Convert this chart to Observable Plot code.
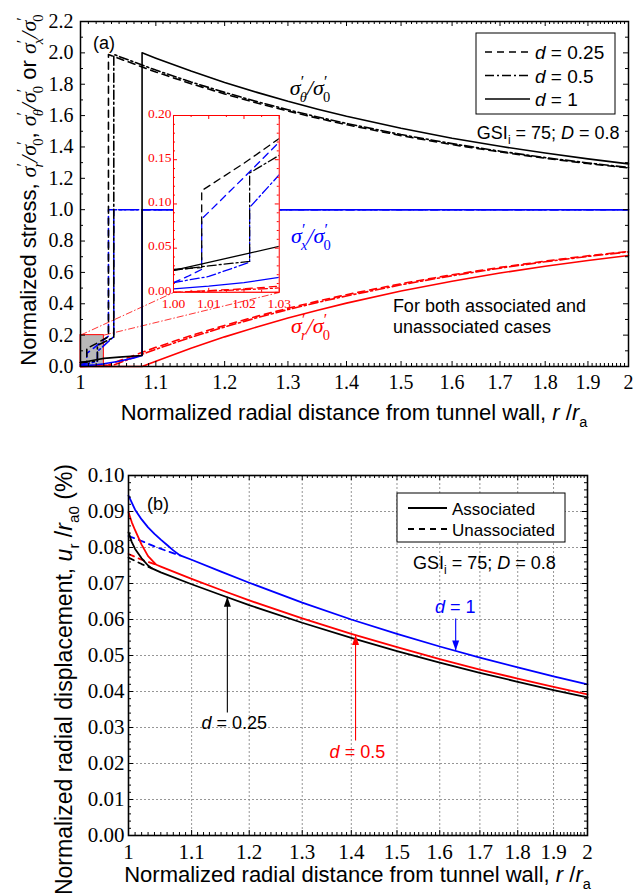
<!DOCTYPE html>
<html><head><meta charset="utf-8">
<script src="https://cdn.jsdelivr.net/npm/d3@7"></script>
<script src="https://cdn.jsdelivr.net/npm/@observablehq/plot@0.6"></script>
<style>
body{margin:0;background:#fff;}
#wrap{position:relative;width:635px;height:896px;overflow:hidden;background:#fff;}
#wrap svg{position:absolute;}
</style></head><body><div id="wrap"></div>
<script>
const SANS = "Liberation Sans, Arial, sans-serif";
const SERIF = "Liberation Serif, Times New Roman, serif";

// ---------- tick values ----------
const xTickValues = [1, 1.1, 1.2, 1.3, 1.4, 1.5, 1.6, 1.7, 1.8, 1.9, 2];
const stressTicks = [0, 0.2, 0.4, 0.6, 0.8, 1.0, 1.2, 1.4, 1.6, 1.8, 2.0, 2.2];
const dispTicks = [0, 0.01, 0.02, 0.03, 0.04, 0.05, 0.06, 0.07, 0.08, 0.09, 0.10];
const insetXTicks = [1.00, 1.01, 1.02, 1.03];
const insetYTicks = [0, 0.05, 0.10, 0.15, 0.20];

// ---------- panel (a): normalized stresses ----------
// sigma_theta / sigma_0
const thetaR_d025 = [1, 1.004, 1.008, 1.008, 1.02, 1.03, 1.036, 1.036, 1.05, 1.1, 1.15, 1.2, 1.25, 1.3, 1.35, 1.4, 1.5, 1.6, 1.7, 1.8, 1.9, 2];
const thetaV_d025 = [0.026, 0.027, 0.028, 0.115, 0.146, 0.174, 0.190, 1.99, 1.964, 1.878, 1.803, 1.738, 1.680, 1.629, 1.583, 1.542, 1.472, 1.415, 1.368, 1.328, 1.294, 1.266];
const thetaR_d05 = [1, 1.01, 1.0216, 1.0216, 1.03, 1.043, 1.043, 1.05, 1.1, 1.15, 1.2, 1.25, 1.3, 1.35, 1.4, 1.5, 1.6, 1.7, 1.8, 1.9, 2];
const thetaV_d05 = [0.025, 0.030, 0.035, 0.135, 0.155, 0.186, 1.99, 1.977, 1.890, 1.814, 1.748, 1.689, 1.637, 1.591, 1.550, 1.479, 1.421, 1.373, 1.332, 1.298, 1.269];
const thetaR_d1 = [1, 1.01, 1.02, 1.03, 1.05, 1.081, 1.081, 1.1, 1.15, 1.2, 1.25, 1.3, 1.35, 1.4, 1.5, 1.6, 1.7, 1.8, 1.9, 2];
const thetaV_d1 = [0.025, 0.034, 0.043, 0.052, 0.060, 0.070, 2.0, 1.966, 1.884, 1.811, 1.748, 1.691, 1.641, 1.596, 1.519, 1.456, 1.404, 1.361, 1.324, 1.292];
// sigma_x / sigma_0
const xR_d025 = [1, 1.004, 1.008, 1.008, 1.02, 1.03, 1.036, 1.036, 2];
const xV_d025 = [0.011, 0.018, 0.026, 0.083, 0.130, 0.170, 0.194, 1.0, 1.0];
const xR_d05 = [1, 1.01, 1.0216, 1.0216, 1.03, 1.043, 1.043, 2];
const xV_d05 = [0.011, 0.018, 0.034, 0.096, 0.133, 0.190, 1.0, 1.0];
const xR_d1 = [1, 1.01, 1.02, 1.03, 1.05, 1.07, 1.081, 1.081, 2];
const xV_d1 = [0.004, 0.007, 0.011, 0.017, 0.033, 0.055, 0.070, 1.0, 1.0];
// sigma_r / sigma_0
const rR_d025 = [1, 1.01, 1.02, 1.03, 1.036, 1.05, 1.1, 1.15, 1.2, 1.25, 1.3, 1.35, 1.4, 1.5, 1.6, 1.7, 1.8, 1.9, 2];
const rV_d025 = [0, 0.002, 0.004, 0.007, 0.010, 0.036, 0.122, 0.197, 0.262, 0.320, 0.371, 0.417, 0.458, 0.528, 0.585, 0.632, 0.672, 0.706, 0.734];
const rR_d05 = [1, 1.02, 1.03, 1.043, 1.05, 1.1, 1.15, 1.2, 1.25, 1.3, 1.35, 1.4, 1.5, 1.6, 1.7, 1.8, 1.9, 2];
const rV_d05 = [0, 0.003, 0.005, 0.010, 0.023, 0.110, 0.186, 0.252, 0.311, 0.363, 0.409, 0.450, 0.521, 0.579, 0.627, 0.668, 0.702, 0.731];
const rR_d1 = [1, 1.081, 1.1, 1.15, 1.2, 1.25, 1.3, 1.35, 1.4, 1.5, 1.6, 1.7, 1.8, 1.9, 2];
const rV_d1 = [0, 0, 0.034, 0.116, 0.189, 0.252, 0.309, 0.359, 0.404, 0.481, 0.544, 0.596, 0.639, 0.676, 0.708];

// zoomed region and where the inset sits (data units of panel a)
const insetRange = {r: [1.0, 1.03], v: [0, 0.2]};
const insetPlacement = {r: [1.125, 1.286], v: [0.472, 1.60]};

// ---------- panel (b): normalized radial displacement (%) ----------
const dispR_d025_assoc = [1, 1.005, 1.01, 1.02, 1.03, 1.036, 1.05, 1.1, 1.15, 1.2, 1.3, 1.4, 1.5, 1.6, 1.7, 1.8, 1.9, 2];
const dispV_d025_assoc = [0.0842, 0.0815, 0.0796, 0.0770, 0.0750, 0.0742, 0.0731, 0.0698, 0.0668, 0.0640, 0.0591, 0.0549, 0.0512, 0.0480, 0.0452, 0.0427, 0.0404, 0.0384];
const dispR_d025_unassoc = [1, 1.01, 1.02, 1.036];
const dispV_d025_unassoc = [0.0772, 0.0763, 0.0754, 0.0742];
const dispR_d05_assoc = [1, 1.005, 1.01, 1.02, 1.03, 1.043, 1.05, 1.1, 1.15, 1.2, 1.3, 1.4, 1.5, 1.6, 1.7, 1.8, 1.9, 2];
const dispV_d05_assoc = [0.0898, 0.0870, 0.0848, 0.0808, 0.0776, 0.0752, 0.0747, 0.0713, 0.0682, 0.0653, 0.0603, 0.0560, 0.0523, 0.0490, 0.0461, 0.0436, 0.0413, 0.0392];
const dispR_d05_unassoc = [1, 1.02, 1.043];
const dispV_d05_unassoc = [0.0782, 0.0766, 0.0752];
const dispR_d1_assoc = [1, 1.01, 1.02, 1.03, 1.04, 1.05, 1.06, 1.07, 1.081, 1.1, 1.15, 1.2, 1.3, 1.4, 1.5, 1.6, 1.7, 1.8, 1.9, 2];
const dispV_d1_assoc = [0.0944, 0.0905, 0.0878, 0.0856, 0.0838, 0.0822, 0.0807, 0.0792, 0.0778, 0.0766, 0.0733, 0.0702, 0.0647, 0.0600, 0.0560, 0.0525, 0.0494, 0.0467, 0.0442, 0.0420];
const dispR_d1_unassoc = [1, 1.02, 1.04, 1.06, 1.081];
const dispV_d1_unassoc = [0.0832, 0.0818, 0.0803, 0.0790, 0.0778];
// pointer arrows: r position, tail value, tip value
const arrowR = [1.161, 1.409, 1.639];
const arrowTail = [0.0342, 0.0264, 0.0603];
const arrowTip = [0.0663, 0.0557, 0.0514];
const arrowLabels = ["0.25", "0.5", "1"];
const arrowLabelR = [1.174, 1.414, 1.639];
const arrowLabelV = [0.0294, 0.0214, 0.0617];

// ---------- helpers ----------
const rows = (R, V) => R.map((r, i) => ({r, v: V[i]}));
const DASH = {"0.25": "7,5", "0.5": "9,3,2,3", "1": undefined};
const COL = {theta: "#000000", x: "#0000ff", r: "#ff0000"};
const stressSeries = [
  {q: "r", d: "0.25", R: rR_d025, V: rV_d025}, {q: "r", d: "0.5", R: rR_d05, V: rV_d05}, {q: "r", d: "1", R: rR_d1, V: rV_d1},
  {q: "x", d: "0.25", R: xR_d025, V: xV_d025}, {q: "x", d: "0.5", R: xR_d05, V: xV_d05}, {q: "x", d: "1", R: xR_d1, V: xV_d1},
  {q: "theta", d: "0.25", R: thetaR_d025, V: thetaV_d025}, {q: "theta", d: "0.5", R: thetaR_d05, V: thetaV_d05}, {q: "theta", d: "1", R: thetaR_d1, V: thetaV_d1}
];
function rangeStep(a, b, s, skip) {
  const out = [];
  for (let k = 0; a + k * s <= b + 1e-9; k++) {
    const v = +(a + k * s).toFixed(6);
    if (!skip.some(t => Math.abs(t - v) < 1e-9)) out.push(v);
  }
  return out;
}
function tickSet(xMaj, xMin, yMaj, yMin, W, H, color, maj = 5, mn = 3) {
  const o = {stroke: color, strokeWidth: 1};
  return [
    Plot.tickX(xMaj, {x: d => d, insetTop: H - maj, ...o}),
    Plot.tickX(xMaj, {x: d => d, insetBottom: H - maj, ...o}),
    Plot.tickX(xMin, {x: d => d, insetTop: H - mn, ...o}),
    Plot.tickX(xMin, {x: d => d, insetBottom: H - mn, ...o}),
    Plot.tickY(yMaj, {y: d => d, insetRight: W - maj, ...o}),
    Plot.tickY(yMaj, {y: d => d, insetLeft: W - maj, ...o}),
    Plot.tickY(yMin, {y: d => d, insetRight: W - mn, ...o}),
    Plot.tickY(yMin, {y: d => d, insetLeft: W - mn, ...o})
  ];
}
function rich(text, parts, fs) {
  let cur = 0;
  for (const p of parts) {
    const ts = text.append("tspan").text(p.t);
    let target = 0, size = fs;
    if (p.sub) { target = 0.3 * fs; size = 0.66 * fs; }
    if (p.sup) { target = -0.38 * fs; size = 0.72 * fs; }
    ts.attr("dy", target - cur).attr("font-size", size);
    cur = target;
    if (p.serif) ts.attr("font-family", SERIF);
    if (p.it) ts.attr("font-style", "italic");
    if (p.dx) ts.attr("dx", p.dx * fs);
  }
  return text;
}
const sig = (sub, subIt = true) => [
  {t: "σ", serif: true, it: true},
  {t: "′", sup: true, serif: true},
  {t: sub, sub: true, serif: true, it: subIt, dx: -0.2}
];
const slash = {t: "/", serif: true, it: true};
function addText(svg, x, y, fs, parts, opts = {}) {
  const t = svg.append("text").attr("x", x).attr("y", y).attr("font-family", SANS)
    .attr("font-size", fs).attr("fill", opts.fill || "black").attr("text-anchor", opts.anchor || "start");
  if (opts.transform) t.attr("transform", opts.transform).attr("x", null).attr("y", null);
  return rich(t, parts, fs);
}
function serifTicks(svg) {
  d3.select(svg).selectAll("g[aria-label$='tick label'] text, g[aria-label$='tick label']")
    .attr("font-family", SERIF).style("font-family", SERIF);
}

const wrap = document.getElementById("wrap");

// ================= panel (a) =================
const TW = 635, TH = 430, TL = 80, TR = 7, TT = 21, TB = 64;
const topW = TW - TL - TR, topH = TH - TT - TB;
const lineMarks = (clip, sw) => stressSeries.map(s => Plot.line(rows(s.R, s.V), {
  x: "r", y: "v", stroke: COL[s.q], strokeWidth: sw, strokeDasharray: DASH[s.d], clip
}));

const topPlot = Plot.plot({
  width: TW, height: TH, marginLeft: TL, marginRight: TR, marginTop: TT, marginBottom: TB,
  x: {type: "log", domain: [1, 2]},
  y: {domain: [0, 2.2]},
  style: {fontFamily: SERIF, fontSize: "20px", background: "transparent", overflow: "visible", color: "black"},
  marks: [
    Plot.rect([insetRange], {x1: d => d.r[0], x2: d => d.r[1], y1: d => d.v[0], y2: d => d.v[1], fill: "#b8b8b8", stroke: "#ff0000", strokeWidth: 1}),
    Plot.link([0, 1], {
      x1: i => insetRange.r[i], y1: () => insetRange.v[1],
      x2: i => insetPlacement.r[i], y2: () => insetPlacement.v[0],
      stroke: "#ff0000", strokeWidth: 0.8, strokeDasharray: "7,2,1.5,2"
    }),
    ...lineMarks(false, 1.6),
    Plot.frame({stroke: "black", strokeWidth: 1.5}),
    ...tickSet(xTickValues, rangeStep(1, 2, 0.01, xTickValues), stressTicks, rangeStep(0.1, 2.1, 0.2, []), topW, topH, "black"),
    Plot.axisX(xTickValues, {tickSize: 0, tickPadding: 8, tickFormat: d => String(d), label: null, fontSize: 20, fontFamily: SERIF}),
    Plot.axisY(stressTicks, {tickSize: 0, tickPadding: 7, tickFormat: d => d.toFixed(1), label: null, fontSize: 20, fontFamily: SERIF})
  ]
});
topPlot.style.left = "0px"; topPlot.style.top = "0px";
wrap.appendChild(topPlot);
serifTicks(topPlot);
const txa = topPlot.scale("x"), tya = topPlot.scale("y");
const ts = d3.select(topPlot);

// axis titles
addText(ts, TL + topW / 2, 420, 22, [
  {t: "Normalized radial distance from tunnel wall, "}, {t: "r", it: true}, {t: " /"}, {t: "r", it: true}, {t: "a", sub: true}
], {anchor: "middle"});
addText(ts, 0, 0, 22, [
  {t: "Normalized stress, "}, ...sig("r"), slash, ...sig("0", false), {t: ", "},
  ...sig("θ"), slash, ...sig("0", false), {t: " or "}, ...sig("x"), slash, ...sig("0", false)
], {anchor: "middle", transform: "translate(36,190) rotate(-90)"});

// panel tag, legend, annotations
addText(ts, 93, 49, 18, [{t: "(a)"}]);
ts.append("rect").attr("x", 476).attr("y", 33).attr("width", 139).attr("height", 81)
  .attr("fill", "white").attr("stroke", "black").attr("stroke-width", 1);
["0.25", "0.5", "1"].forEach((d, i) => {
  const y = 52 + i * 23.5;
  ts.append("line").attr("x1", 485).attr("x2", 530).attr("y1", y).attr("y2", y)
    .attr("stroke", "black").attr("stroke-width", 1.6).attr("stroke-dasharray", DASH[d] || null);
  addText(ts, 535, y + 7, 19, [{t: "d", it: true}, {t: " = " + d}]);
});
addText(ts, txa.apply(1.652), tya.apply(1.448), 18, [{t: "GSI"}, {t: "i", sub: true}, {t: " = 75; "}, {t: "D", it: true}, {t: " = 0.8"}]);
addText(ts, txa.apply(1.304), tya.apply(1.728), 22, [...sig("θ"), slash, ...sig("0", false)]);
addText(ts, txa.apply(1.306), tya.apply(0.784), 22, [...sig("x"), slash, ...sig("0", false)], {fill: "#0000ff"});
addText(ts, txa.apply(1.306), tya.apply(0.21), 22, [...sig("r"), slash, ...sig("0", false)], {fill: "#ff0000"});
addText(ts, txa.apply(1.4855), tya.apply(0.344), 18, [{t: "For both associated and"}]);
addText(ts, txa.apply(1.4855), tya.apply(0.21), 18, [{t: "unassociated cases"}]);

// ---------- inset ----------
const iL = txa.apply(insetPlacement.r[0]), iR = txa.apply(insetPlacement.r[1]);
const iT = tya.apply(insetPlacement.v[1]), iB = tya.apply(insetPlacement.v[0]);
const IML = 36, IMR = 6, IMT = 8, IMB = 22;
const iw = iR - iL, ih = iB - iT;
const inset = Plot.plot({
  width: iw + IML + IMR, height: ih + IMT + IMB,
  marginLeft: IML, marginRight: IMR, marginTop: IMT, marginBottom: IMB,
  x: {domain: insetRange.r}, y: {domain: insetRange.v},
  style: {fontFamily: SERIF, fontSize: "14px", background: "transparent", overflow: "visible", color: "#ff0000"},
  marks: [
    Plot.frame({fill: "white", stroke: "none"}),
    ...lineMarks(true, 1.3),
    Plot.frame({stroke: "#ff0000", strokeWidth: 1}),
    ...tickSet(insetXTicks, [1.005, 1.015, 1.025], insetYTicks, rangeStep(0.01, 0.19, 0.01, insetYTicks), iw, ih, "#ff0000", 4, 2),
    Plot.axisX(insetXTicks, {tickSize: 0, tickPadding: 6, tickFormat: d => d.toFixed(2), label: null, fill: "#ff0000", fontSize: 13.5, fontFamily: SERIF}),
    Plot.axisY(insetYTicks, {tickSize: 0, tickPadding: 2, dy: -2, tickFormat: d => d.toFixed(2), label: null, fill: "#ff0000", fontSize: 13.5, fontFamily: SERIF})
  ]
});
inset.style.left = (iL - IML) + "px"; inset.style.top = (iT - IMT) + "px";
wrap.appendChild(inset);
serifTicks(inset);

// ================= panel (b) =================
const BW = 635, BH = 466, BL = 128, BR = 48, BT = 45, BB = 61, OFF = 430;
const botW = BW - BL - BR, botH = BH - BT - BB;
const dispSeries = [
  {R: dispR_d025_unassoc, V: dispV_d025_unassoc, c: "black", dash: "6,5"},
  {R: dispR_d05_unassoc, V: dispV_d05_unassoc, c: "#ff0000", dash: "6,5"},
  {R: dispR_d1_unassoc, V: dispV_d1_unassoc, c: "#0000ff", dash: "6,5"},
  {R: dispR_d025_assoc, V: dispV_d025_assoc, c: "black"},
  {R: dispR_d05_assoc, V: dispV_d05_assoc, c: "#ff0000"},
  {R: dispR_d1_assoc, V: dispV_d1_assoc, c: "#0000ff"}
];
const arrowCols = ["black", "#ff0000", "#0000ff"];
const arrows = arrowR.map((r, i) => ({r, tail: arrowTail[i], tip: arrowTip[i], c: arrowCols[i], up: arrowTip[i] > arrowTail[i]}));
const headUp = {draw(ctx) { ctx.moveTo(0, 0); ctx.lineTo(-3.5, 10); ctx.lineTo(3.5, 10); ctx.closePath(); }};
const headDown = {draw(ctx) { ctx.moveTo(0, 0); ctx.lineTo(-3.5, -10); ctx.lineTo(3.5, -10); ctx.closePath(); }};

const botPlot = Plot.plot({
  width: BW, height: BH, marginLeft: BL, marginRight: BR, marginTop: BT, marginBottom: BB,
  x: {type: "log", domain: [1, 2]},
  y: {domain: [0, 0.1]},
  style: {fontFamily: SERIF, fontSize: "21px", background: "transparent", overflow: "visible", color: "black"},
  marks: [
    Plot.ruleX(xTickValues.slice(1, -1), {stroke: "#8a8a8a", strokeWidth: 0.9, strokeDasharray: "2,2"}),
    Plot.ruleY(dispTicks.slice(1, -1), {stroke: "#8a8a8a", strokeWidth: 0.9, strokeDasharray: "2,2"}),
    ...dispSeries.map(s => Plot.line(rows(s.R, s.V), {x: "r", y: "v", stroke: s.c, strokeWidth: 1.8, strokeDasharray: s.dash})),
    Plot.link(arrows, {x1: "r", x2: "r", y1: "tail", y2: "tip", stroke: "c", strokeWidth: 1.1}),
    Plot.dot(arrows.filter(a => a.up), {x: "r", y: "tip", fill: "c", stroke: "none", symbol: headUp, r: 4}),
    Plot.dot(arrows.filter(a => !a.up), {x: "r", y: "tip", fill: "c", stroke: "none", symbol: headDown, r: 4}),
    Plot.frame({stroke: "black", strokeWidth: 1.6}),
    ...tickSet(xTickValues, rangeStep(1, 2, 0.01, xTickValues), dispTicks, rangeStep(0.002, 0.098, 0.002, dispTicks), botW, botH, "black"),
    Plot.axisX(xTickValues, {tickSize: 0, tickPadding: 9, tickFormat: d => String(d), label: null, fontSize: 21, fontFamily: SERIF}),
    Plot.axisY(dispTicks, {tickSize: 0, tickPadding: 4, tickFormat: d => d.toFixed(2), label: null, fontSize: 21, fontFamily: SERIF})
  ]
});
botPlot.style.left = "0px"; botPlot.style.top = OFF + "px";
wrap.appendChild(botPlot);
serifTicks(botPlot);
const bxa = botPlot.scale("x"), bya = botPlot.scale("y");
const bs = d3.select(botPlot);

addText(bs, BL + botW / 2, 882 - OFF, 22, [
  {t: "Normalized radial distance from tunnel wall, "}, {t: "r", it: true}, {t: " /"}, {t: "r", it: true}, {t: "a", sub: true}
], {anchor: "middle"});
addText(bs, 0, 0, 23, [
  {t: "Normalized radial displacement, "}, {t: "u", it: true}, {t: "r", sub: true}, {t: " /"}, {t: "r", it: true}, {t: "a0", sub: true}, {t: " (%)"}
], {anchor: "end", transform: `translate(72,${464 - OFF}) rotate(-90)`});
addText(bs, 147, 510 - OFF, 18, [{t: "(b)"}]);
bs.append("rect").attr("x", 397).attr("y", 493 - OFF).attr("width", 168).attr("height", 49)
  .attr("fill", "white").attr("stroke", "black").attr("stroke-width", 1);
[["Associated", undefined, 508], ["Unassociated", "6,5", 529]].forEach(([lab, dash, y]) => {
  bs.append("line").attr("x1", 408).attr("x2", 447).attr("y1", y - OFF).attr("y2", y - OFF)
    .attr("stroke", "black").attr("stroke-width", 1.8).attr("stroke-dasharray", dash || null);
  addText(bs, 452, y - OFF + 6.5, 17, [{t: lab}]);
});
addText(bs, 413, 569 - OFF, 18, [{t: "GSI"}, {t: "i", sub: true}, {t: " = 75; "}, {t: "D", it: true}, {t: " = 0.8"}]);
arrowLabels.forEach((d, i) => {
  addText(bs, bxa.apply(arrowLabelR[i]), bya.apply(arrowLabelV[i]), 18, [{t: "d", it: true}, {t: " = " + d}],
    {anchor: "middle", fill: arrowCols[i]});
});
</script></body></html>
